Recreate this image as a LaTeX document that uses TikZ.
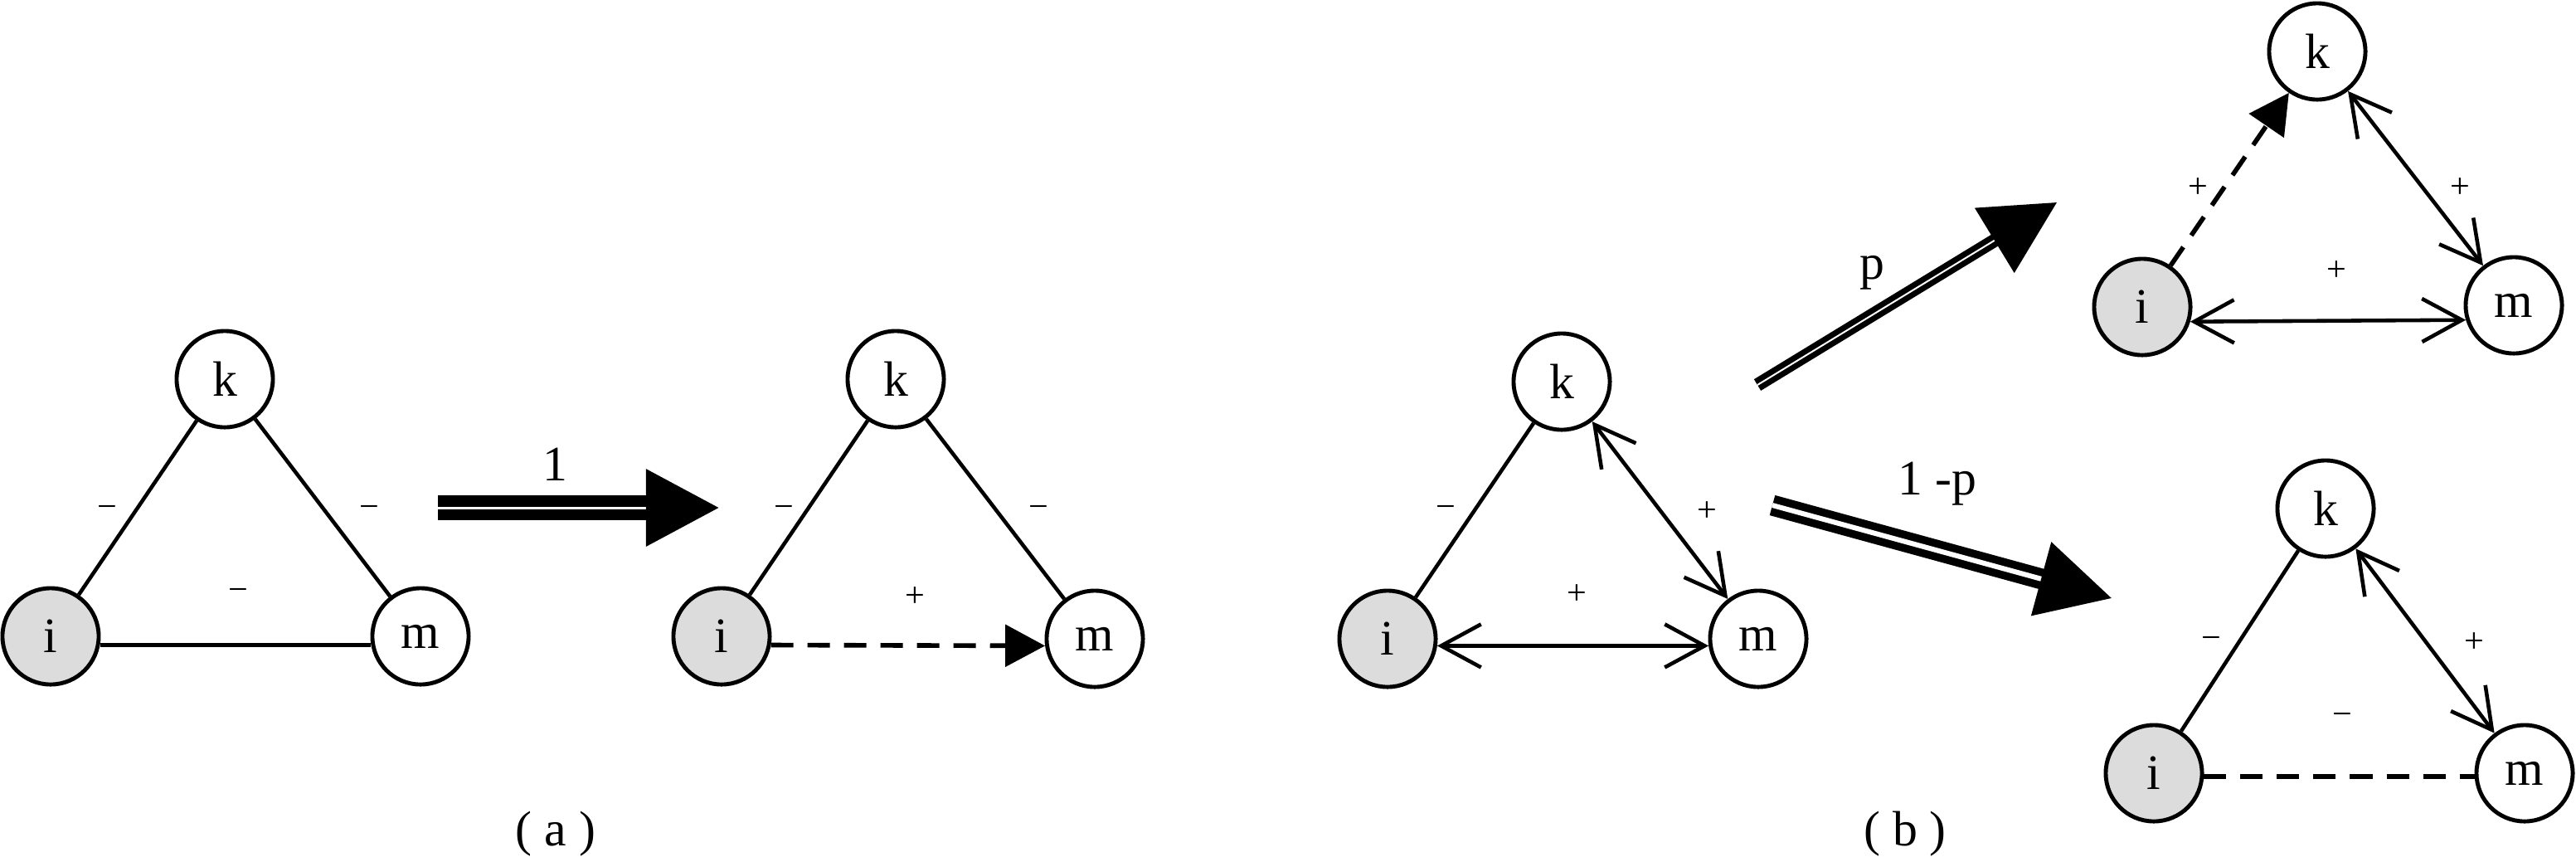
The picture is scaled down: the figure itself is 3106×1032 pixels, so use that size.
\documentclass[tikz,border=0pt]{standalone}
\usepackage{fontspec}
\setmainfont{Liberation Serif}
\usetikzlibrary{arrows.meta}
\definecolor{nodegray}{RGB}{220,220,220}

\begin{document}
\begin{tikzpicture}[x=0.01cm, y=-0.01cm]
	\tikzstyle{vertex} = [draw=black, circle, line width=1.4pt, minimum size=1.16cm, inner sep=0pt, font=\fontsize{17}{20}\selectfont]
	\tikzstyle{start} = [vertex, fill=nodegray]
	\tikzstyle{edge} = [draw=black, line width=1.3pt]
	\tikzstyle{dedge} = [draw=black, line width=1.6pt, dash pattern=on 0.27cm off 0.17cm]
	\tikzstyle{fhead} = [-{Triangle[length=0.48cm, width=0.5cm]}]
	\tikzstyle{both} = [edge, {Straight Barb[length=0.48cm, width=0.52cm]}-{Straight Barb[length=0.48cm, width=0.52cm]}]
	\tikzstyle{sign} = [font=\fontsize{12}{14}\selectfont, inner sep=0pt]
	\tikzstyle{prob} = [font=\fontsize{17}{20}\selectfont, inner sep=0pt]
	\tikzstyle{trans} = [draw=black, double=white, -{Triangle[length=0.88cm, width=0.9cm]}]
	\useasboundingbox (0,0) rectangle (3106,1032);

		\node[vertex] (k1) at (271,457)  {k};
		\node[start]  (i1) at (61,767)   {i};
		\node[vertex] (m1) at (507,767)  {m};
		\node[vertex] (k2) at (1080,457) {k};
		\node[start]  (i2) at (870,767)  {i};
		\node[vertex] (m2) at (1320,770) {m};
		\node[vertex] (k3) at (1883,460) {k};
		\node[start]  (i3) at (1673,770) {i};
		\node[vertex] (m3) at (2120,770) {m};
		\node[vertex] (k4) at (2794,62)  {k};
		\node[start]  (i4) at (2583,370) {i};
		\node[vertex] (m4) at (3031,368) {m};
		\node[vertex] (k5) at (2804,613) {k};
		\node[start]  (i5) at (2597,932) {i};
		\node[vertex] (m5) at (3044,932) {m};

	\draw[edge] (i1) -- (k1) -- (m1);
	\draw[edge] (i1.-10) -- (m1.190);
	\draw[edge] (i2) -- (k2) -- (m2);
	\draw[dedge, fhead] (i2.-10) -- (m2.188);
	\draw[edge] (i3) -- (k3);
	\draw[both] (k3) -- (m3);
	\draw[both] (i3.-8) -- (m3.188);
	\draw[dedge, fhead] (i4) -- (k4);
	\draw[both] (k4) -- (m4);
	\draw[both] (i4.-17) -- (m4.197);
	\draw[edge] (i5) -- (k5);
	\draw[both] (k5) -- (m5);
	\draw[dedge] (i5.-4) -- (m5.184);

		\node[sign] (s1) at (129,617)  {−};
		\node[sign] (s2) at (445,617)  {−};
		\node[sign] (s3) at (287,717)  {−};
		\node[sign] (s4) at (945,617)  {−};
		\node[sign] (s5) at (1252,617) {−};
		\node[sign] (s6) at (1103,720) {+};
		\node[sign] (s7) at (1743,617) {−};
		\node[sign] (s8) at (2058,617) {+};
		\node[sign] (s9) at (1901,717) {+};
		\node[sign] (s10) at (2650,227) {+};
		\node[sign] (s11) at (2966,227) {+};
		\node[sign] (s12) at (2817,327) {+};
		\node[sign] (s13) at (2666,775) {−};
		\node[sign] (s14) at (2983,775) {+};
		\node[sign] (s15) at (2824,867) {−};

	\coordinate (t1) at (528,612);
	\coordinate (h1) at (867,612);
	\coordinate (t2) at (2119,464);
	\coordinate (h2) at (2480,244);
	\coordinate (t3) at (2137,609);
	\coordinate (h3) at (2546,721);
	\draw[trans, line width=0.135cm, double distance=0.03cm] (t1) -- (h1);
	\draw[trans, line width=0.07cm, double distance=0.02cm] (t2) -- (h2);
	\draw[trans, line width=0.095cm, double distance=0.06cm] (t3) -- (h3);

		\node[prob] (l1) at (669,560)  {1};
		\node[prob] (l2) at (2257,329) {p};
		\node[prob] (l3) at (2336,583) {1 -p};
		\node[prob] (pa) at (670,1005) {( a )};
		\node[prob] (pb) at (2297,1005) {( b )};
\end{tikzpicture}
\end{document}
